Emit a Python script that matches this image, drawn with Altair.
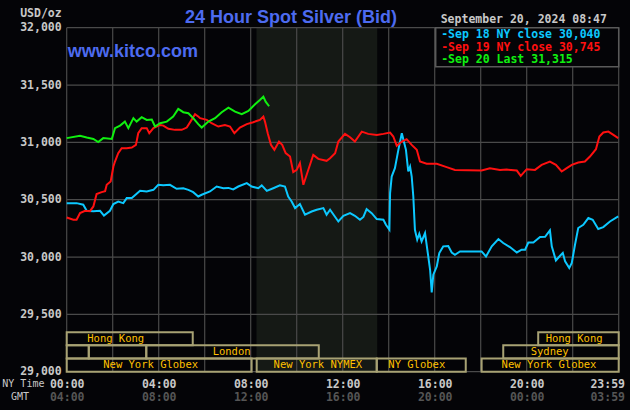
import altair as alt
import pandas as pd

# ---------------- data ----------------
green_h = [0, 0.58, 0.87, 1.16, 1.37, 1.59, 1.96, 2.10, 2.32, 2.53, 2.68, 2.90, 3.04, 3.26, 3.48,
           3.70, 3.84, 4.06, 4.35, 4.63, 4.85, 5.07, 5.29, 5.50, 5.72, 5.87, 6.16, 6.45, 6.74, 7.03,
           7.32, 7.61, 7.90, 8.19, 8.40, 8.55, 8.65, 8.80]
green_v = [31037, 31057, 31042, 31030, 31002, 31037, 31030, 31124, 31146, 31181, 31124, 31211, 31181,
           31220, 31196, 31199, 31138, 31167, 31181, 31225, 31292, 31263, 31254, 31211, 31159, 31129,
           31181, 31211, 31263, 31303, 31268, 31246, 31274, 31333, 31370, 31399, 31355, 31315]

red_h = [0, 0.29, 0.43, 0.58, 0.80, 1.01, 1.16, 1.30, 1.52, 1.67,
         1.74, 1.91, 2.03, 2.10, 2.24, 2.39, 2.61, 2.83, 3.01, 3.11,
         3.26, 3.48, 3.59, 3.77, 4.06, 4.20, 4.42, 4.71, 5.00, 5.22,
         5.43, 5.58, 5.72, 5.80, 6.09, 6.30, 6.59, 6.88, 7.10, 7.29,
         7.53, 7.83, 8.11, 8.40, 8.55, 8.62, 8.74, 8.88, 9.03, 9.23,
         9.37, 9.52, 9.71, 9.85, 10.00, 10.14, 10.29, 10.48, 10.72, 10.94,
         11.30, 11.45, 11.67, 11.81, 12.10, 12.32, 12.53, 12.83, 13.11, 13.48,
         13.77, 14.06, 14.20, 14.35, 14.57, 14.78, 15.00, 15.22, 15.36, 15.65,
         16.09, 16.52, 16.88, 18.04, 18.40, 18.84, 19.13, 19.57, 19.74, 20.00,
         20.36, 20.65, 21.01, 21.27, 21.52, 21.74, 21.96, 22.24, 22.53, 22.75,
         23.01, 23.16, 23.33, 23.55, 23.77, 23.98]
red_v = [30345, 30325, 30325, 30383, 30403, 30400, 30441, 30549, 30566, 30575,
         30630, 30658, 30789, 30833, 30906, 30949, 30949, 30955, 30978, 31080,
         31124, 31124, 31080, 31124, 31152, 31146, 31118, 31109, 31109, 31129,
         31196, 31246, 31225, 31211, 31196, 31167, 31138, 31152, 31138, 31080,
         31129, 31159, 31176, 31196, 31225, 31181, 31080, 30978, 30935, 31007,
         30978, 30906, 30876, 30740, 30760, 30819, 30630, 30746, 30891, 30856,
         30839, 30862, 30906, 31007, 31074, 31045, 31007, 31094, 31074, 31065,
         31074, 31086, 31051, 30970, 31007, 31028, 30978, 30935, 30833, 30813,
         30813, 30784, 30760, 30754, 30775, 30760, 30763, 30754, 30708, 30766,
         30760, 30804, 30833, 30804, 30746, 30775, 30804, 30824, 30833, 30876,
         30940, 31051, 31086, 31094, 31065, 31037]

cyan_h = [0, 0.43, 0.72, 0.87, 1.16, 1.45, 1.62, 1.88, 2.03, 2.24,
          2.46, 2.61, 2.83, 3.19, 3.48, 3.77, 3.98, 4.20, 4.49, 4.78,
          5.07, 5.29, 5.50, 5.72, 5.87, 6.23, 6.52, 6.81, 7.03, 7.24,
          7.46, 7.83, 8.04, 8.33, 8.48, 8.70, 8.98, 9.27, 9.49, 9.63,
          9.78, 9.93, 10.14, 10.36, 10.65, 10.87, 11.16, 11.30, 11.45, 11.81,
          12.03, 12.32, 12.53, 12.75, 12.90, 13.04, 13.26, 13.48, 13.77, 13.88,
          14.03, 14.06, 14.13, 14.27, 14.42, 14.57, 14.64, 14.75, 14.85, 14.93,
          15.00, 15.07, 15.14, 15.24, 15.33, 15.43, 15.58, 15.70, 15.80, 15.87,
          15.94, 16.09, 16.20, 16.37, 16.59, 16.74, 16.88, 17.10, 18.04, 18.23,
          18.48, 18.77, 18.98, 19.27, 19.57, 19.78, 19.93, 20.07, 20.29, 20.58,
          20.80, 21.01, 21.09, 21.27, 21.45, 21.57, 21.67, 21.85, 21.96, 22.10,
          22.24, 22.46, 22.68, 22.87, 23.11, 23.33, 23.62, 23.98]
cyan_v = [30470, 30470, 30456, 30403, 30400, 30403, 30362, 30403, 30462, 30484,
          30470, 30514, 30514, 30577, 30572, 30586, 30630, 30625, 30630, 30595,
          30600, 30586, 30566, 30528, 30543, 30572, 30615, 30600, 30603, 30590,
          30615, 30644, 30615, 30600, 30625, 30577, 30600, 30625, 30615, 30528,
          30484, 30427, 30462, 30369, 30397, 30412, 30427, 30369, 30412, 30310,
          30360, 30383, 30360, 30325, 30350, 30418, 30383, 30331, 30325, 30281,
          30238, 30557, 30702, 30775, 30935, 31080, 31022, 30935, 30746, 30789,
          30702, 30528, 30238, 30151, 30203, 30136, 30209, 30035, 29889, 29692,
          29846, 29918, 30035, 30093, 30096, 30040, 30020, 30049, 30049, 30005,
          30093, 30157, 30122, 30087, 30040, 30064, 30064, 30127, 30127, 30174,
          30177, 30232, 30093, 29970, 30011, 30035, 29962, 29904, 29948, 30107,
          30253, 30281, 30340, 30325, 30244, 30261, 30310, 30354]

legend_labels = ["Sep 18 NY close 30,040", "Sep 19 NY close 30,745", "Sep 20 Last 31,315"]
title_text = "24 Hour Spot Silver (Bid)"
site_text = "www.kitco.com"
date_text = "September 20, 2024 08:47"

ny_ticks = [0, 4, 8, 12, 16, 20, 23.5]
ny_labels = ["00:00", "04:00", "08:00", "12:00", "16:00", "20:00", "23:59"]
gmt_labels = ["04:00", "08:00", "12:00", "16:00", "20:00", "00:00", "03:59"]
y_ticks = [29000, 29500, 30000, 30500, 31000, 31500, 32000]

nymex_start, nymex_end = 8.25, 13.5

sess_name = ["Hong Kong", "", "", "London", "New York Globex", "New York NYMEX", "NY Globex",
             "New York Globex", "Sydney", "Hong Kong"]
sess_row = [1, 2, 2, 2, 3, 3, 3, 3, 2, 1]
sess_start = [0, 0, 0.96, 3.46, 0, 8.26, 13.48, 18.04, 18.98, 20.5]
sess_end = [5.48, 0.96, 3.46, 10.96, 8.04, 13.48, 17.35, 24, 24, 24]
sess_label_at = [2.13, 0.48, 2.21, 7.17, 3.65, 10.92, 15.22, 20.97, 21.0, 22.06]

# ---------------- style ----------------
W, H = 552, 344
BG = "#040407"
GRID = "#4a4a4a"
SHADE = "#151915"
LABEL = "#c8c8c8"
GMT_C = "#555555"
BLUE = "#4d6bf0"
BOX = "#a8a274"
GOLD = "#ffc000"
MONO = "DejaVu Sans Mono"
C_CYAN, C_RED, C_GREEN = "#0cc8ff", "#ff1010", "#10f010"

x_scale = alt.Scale(domain=[0, 24], nice=False, zero=False)
y_scale = alt.Scale(domain=[29000, 32000], nice=False, zero=False)


def lab_expr(labels):
    arr = "[" + ",".join("'%s'" % l for l in labels) + "]"
    tk = "[" + ",".join(str(t) for t in ny_ticks) + "]"
    return "%s[indexof(%s, datum.value)]" % (arr, tk)


y_axis = alt.Axis(values=y_ticks, format=",.0f", grid=False, ticks=False, domain=False,
                  labelFont=MONO, labelFontSize=11.5, labelFontWeight="bold", labelColor=LABEL,
                  labelPadding=5.5, labelBaseline="middle", labelFlush=False, labelOverlap=False,
                  title="USD/oz", titleAngle=0, titleAlign="right", titleBaseline="middle",
                  titleX=-5.5, titleY=-14.5, titleFont=MONO, titleFontSize=11.5,
                  titleFontWeight="bold", titleColor=LABEL)

one = pd.DataFrame({"k": [0]})

shade = alt.Chart(pd.DataFrame({"s": [nymex_start], "e": [nymex_end]})).mark_rect(color=SHADE).encode(
    x=alt.X("s:Q", scale=x_scale, axis=None), x2="e:Q", y=alt.value(0), y2=alt.value(H))

vgrid = alt.Chart(pd.DataFrame({"h": list(range(0, 25, 2))})).mark_rule(color=GRID, strokeWidth=1.2).encode(
    x=alt.X("h:Q", scale=x_scale,
            axis=alt.Axis(orient="bottom", values=ny_ticks, labelExpr=lab_expr(gmt_labels), grid=False,
                          ticks=False, domain=False, labelFont=MONO, labelFontSize=11.5,
                          labelFontWeight="bold", labelColor=GMT_C, labelPadding=26,
                          labelBaseline="middle", labelFlush=False, labelOverlap=False,
                          labelBound=False, title=None)))

hgrid = alt.Chart(pd.DataFrame({"v": y_ticks})).mark_rule(color=GRID, strokeWidth=1.2).encode(
    y=alt.Y("v:Q", scale=y_scale, axis=y_axis))

# sessions
row_top = {1: 29345, 2: 29230, 3: 29115}
row_h = 115
sdf = pd.DataFrame({
    "name": sess_name,
    "s": sess_start,
    "e": sess_end,
    "at": sess_label_at,
    "top": [row_top[r] for r in sess_row],
    "bot": [row_top[r] - row_h for r in sess_row],
    "mid": [row_top[r] - row_h / 2 for r in sess_row],
})
boxes = alt.Chart(sdf).mark_rect(fillOpacity=0, stroke=BOX, strokeWidth=2).encode(
    x=alt.X("s:Q", scale=x_scale, axis=None), x2="e:Q",
    y=alt.Y("top:Q", scale=y_scale, axis=y_axis), y2="bot:Q")
box_text = alt.Chart(sdf).mark_text(font=MONO, fontSize=10.5, color=GOLD, baseline="middle",
                                    align="center").encode(
    x=alt.X("at:Q", scale=x_scale, axis=None), y=alt.Y("mid:Q", scale=y_scale, axis=y_axis),
    text="name:N")


# price lines
def series(hs, vs, color, with_axis=False):
    df = pd.DataFrame({"h": hs, "v": vs})
    ax = None
    if with_axis:
        ax = alt.Axis(orient="bottom", values=ny_ticks, labelExpr=lab_expr(ny_labels), grid=False,
                      ticks=False, domain=False, labelFont=MONO, labelFontSize=11.5,
                      labelFontWeight="bold", labelColor=LABEL, labelPadding=12.5,
                      labelBaseline="middle", labelFlush=False, labelOverlap=False,
                      labelBound=False, title=None)
    return alt.Chart(df).mark_line(color=color, strokeWidth=2).encode(
        x=alt.X("h:Q", scale=x_scale, axis=ax),
        y=alt.Y("v:Q", scale=y_scale, axis=y_axis))


l_cyan = series(cyan_h, cyan_v, C_CYAN, with_axis=True)
l_red = series(red_h, red_v, C_RED)
l_green = series(green_h, green_v, C_GREEN)

# legend box
leg_box = alt.Chart(one).mark_rect(fill=BG, stroke="#5a5a5a", strokeWidth=1.5).encode(
    x=alt.value(369), x2=alt.value(552), y=alt.value(0), y2=alt.value(39))
leg_layers = []
for i, (lab, col) in enumerate(zip(legend_labels, [C_CYAN, C_RED, C_GREEN])):
    leg_layers.append(
        alt.Chart(pd.DataFrame({"t": ["-" + lab]})).mark_text(
            font=MONO, fontSize=11.5, fontWeight="bold", color=col, align="left", baseline="alphabetic"
        ).encode(text="t:N", x=alt.value(374.5), y=alt.value(10.2 + 12.75 * i)))


def txt(t, x, y, **kw):
    return alt.Chart(pd.DataFrame({"t": [t]})).mark_text(align="left", **kw).encode(
        text="t:N", x=alt.value(x), y=alt.value(y))


title = txt(title_text, 118.3, -5.2, font="Liberation Sans", fontSize=18, fontWeight="bold",
            color=BLUE, baseline="alphabetic")
site = txt(site_text, 1.0, 28.8, font="Liberation Sans", fontSize=18, fontWeight="bold",
           color=BLUE, baseline="alphabetic")
date = txt(date_text, 374, -4.7, font=MONO, fontSize=11.5, fontWeight="bold", color=LABEL,
           baseline="alphabetic")
nyt = txt("NY Time", -64.4, 355.8, font=MONO, fontSize=10, color=LABEL, baseline="middle")
gmt = txt("GMT", -55.7, 369.3, font=MONO, fontSize=10, color=LABEL, baseline="middle")

chart = alt.layer(
    shade, vgrid, hgrid, boxes, box_text, l_cyan, l_red, l_green, leg_box, *leg_layers,
    title, site, date, nyt, gmt
).resolve_axis(x="independent").properties(
    width=W, height=H, background=BG,
    padding={"left": 66.7, "top": 27.7, "right": 11.3, "bottom": 38.3},
    autosize=alt.AutoSizeParams(type="none"),
).configure_view(stroke=None)

chart.save("out.html", embed_options={"renderer": "svg", "actions": False})
